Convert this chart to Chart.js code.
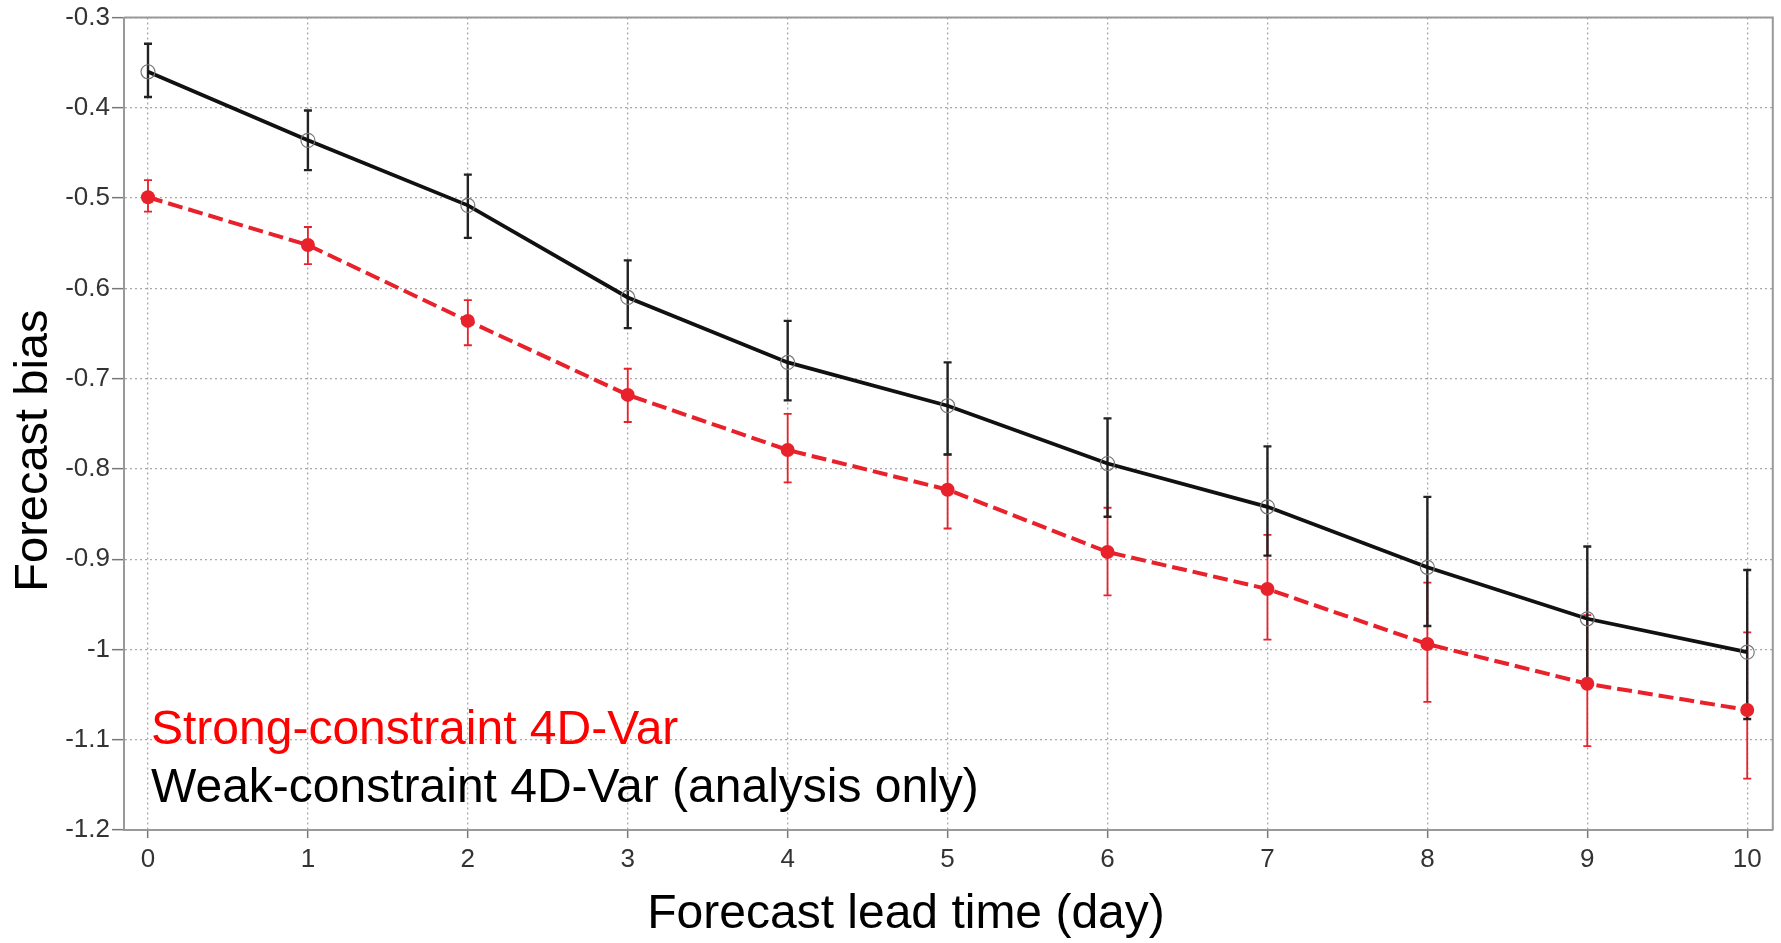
<!DOCTYPE html>
<html><head><meta charset="utf-8">
<script src="https://cdn.jsdelivr.net/npm/chart.js@4.4.1/dist/chart.umd.min.js"></script>
<style>html,body{margin:0;padding:0;background:#fff;overflow:hidden}canvas{display:block}</style>
</head><body>
<canvas id="c" width="1781" height="943"></canvas>
<script>
// ---- data ----
const leadTimes  = [0, 1, 2, 3, 4, 5, 6, 7, 8, 9, 10];
const strongBias = [-0.499, -0.552, -0.636, -0.718, -0.779, -0.823, -0.892, -0.933, -0.994, -1.038, -1.067];
const strongLow  = [-0.515, -0.573, -0.663, -0.748, -0.815, -0.866, -0.940, -0.989, -1.058, -1.107, -1.143];
const strongHigh = [-0.480, -0.532, -0.613, -0.689, -0.739, -0.784, -0.843, -0.873, -0.926, -0.962, -0.981];
const weakBias   = [-0.360, -0.436, -0.508, -0.610, -0.682, -0.730, -0.794, -0.842, -0.909, -0.966, -1.003];
const weakLow    = [-0.388, -0.469, -0.544, -0.644, -0.724, -0.784, -0.853, -0.896, -0.974, -1.034, -1.077];
const weakHigh   = [-0.329, -0.403, -0.474, -0.569, -0.636, -0.682, -0.744, -0.775, -0.831, -0.886, -0.912];
const seriesNames = ['Strong-constraint 4D-Var', 'Weak-constraint 4D-Var (analysis only)'];
const xTitle = 'Forecast lead time (day)';
const yTitle = 'Forecast bias';

const RED = '#e8212b';
const FONT = "'Liberation Sans', Arial, Helvetica, sans-serif";
Chart.defaults.font.family = FONT;

const pts = arr => leadTimes.map((t, i) => ({x: t, y: arr[i]}));

const errorBars = {
  id: 'errorBars',
  beforeDatasetsDraw(chart) {
    const {ctx, scales: {x, y}} = chart;
    ctx.save();
    [0, 1].forEach(di => {
      const ds = chart.data.datasets[di];
      ctx.strokeStyle = ds.errColor;
      ctx.lineWidth = ds.errWidth;
      ctx.setLineDash([]);
      leadTimes.forEach((t, i) => {
        const px = x.getPixelForValue(t);
        const y1 = y.getPixelForValue(ds.errLow[i]);
        const y2 = y.getPixelForValue(ds.errHigh[i]);
        ctx.beginPath();
        ctx.moveTo(px, y1); ctx.lineTo(px, y2);
        ctx.moveTo(px - 4, y1); ctx.lineTo(px + 4, y1);
        ctx.moveTo(px - 4, y2); ctx.lineTo(px + 4, y2);
        ctx.stroke();
      });
    });
    ctx.restore();
  }
};

const frame = {
  id: 'frame',
  beforeDatasetsDraw(chart) {
    const {ctx, chartArea: a} = chart;
    ctx.save();
    ctx.strokeStyle = '#999';
    ctx.lineWidth = 2;
    ctx.setLineDash([]);
    ctx.beginPath();
    ctx.moveTo(a.left, a.top); ctx.lineTo(a.right, a.top); ctx.lineTo(a.right, a.bottom);
    ctx.stroke();
    ctx.restore();
  }
};

const texts = {
  id: 'texts',
  afterDraw(chart) {
    const {ctx, chartArea: a} = chart;
    ctx.save();
    ctx.font = '48px ' + FONT;
    ctx.textBaseline = 'alphabetic';
    ctx.textAlign = 'left';
    ctx.fillStyle = '#ff0000';
    ctx.fillText(seriesNames[0], a.left + 27, a.bottom - 86);
    ctx.fillStyle = '#000';
    ctx.fillText(seriesNames[1], a.left + 27, a.bottom - 28.5);
    // axis titles
    ctx.font = '48px ' + FONT;
    ctx.textAlign = 'center';
    ctx.textBaseline = 'middle';
    ctx.fillText(xTitle, a.left + 782, a.bottom + 85);
    ctx.translate(34, a.top + 433);
    ctx.rotate(-Math.PI / 2);
    ctx.font = '47px ' + FONT;
    ctx.fillText(yTitle, 0, 0);
    ctx.restore();
  }
};

new Chart(document.getElementById('c'), {
  type: 'line',
  data: {
    datasets: [
      {
        label: seriesNames[0],
        data: pts(strongBias),
        borderColor: RED,
        borderWidth: 4,
        borderDash: [15, 6],
        pointRadius: 7,
        pointBackgroundColor: RED,
        pointBorderColor: RED,
        pointBorderWidth: 0,
        tension: 0,
        errLow: strongLow, errHigh: strongHigh, errColor: RED, errWidth: 1.8
      },
      {
        label: seriesNames[1],
        data: pts(weakBias),
        borderColor: '#111',
        borderWidth: 3.8,
        pointRadius: 7,
        pointBackgroundColor: 'rgba(0,0,0,0)',
        pointBorderColor: '#777',
        pointBorderWidth: 1.2,
        tension: 0,
        errLow: weakLow, errHigh: weakHigh, errColor: '#222', errWidth: 2.4
      }
    ]
  },
  options: {
    responsive: false,
    animation: false,
    devicePixelRatio: 1,
    layout: {padding: {top: 16, right: 6, left: 0, bottom: 0}},
    plugins: {legend: {display: false}, tooltip: {enabled: false}},
    scales: {
      x: {
        type: 'linear',
        min: -0.15, max: 10.16,
        afterFit(s) { s.height = 113; },
        ticks: {stepSize: 1, includeBounds: false, padding: 6, color: '#333', font: {size: 26}},
        grid: {color: '#a8a8a8', lineWidth: 1.3, tickLength: 8,
               tickColor: '#777', tickWidth: 1.5, tickBorderDash: []},
        border: {display: true, color: '#999', width: 2, dash: [2, 3]}
      },
      y: {
        type: 'linear',
        min: -1.2, max: -0.3,
        afterFit(s) { s.width = 124; },
        ticks: {stepSize: 0.1, padding: 2, color: '#333', font: {size: 26},
                callback: v => String(Number(v.toFixed(1)))},
        grid: {color: '#a8a8a8', lineWidth: 1.3, tickLength: 12,
               tickColor: '#777', tickWidth: 1.5, tickBorderDash: []},
        border: {display: true, color: '#999', width: 2, dash: [2, 3]}
      }
    }
  },
  plugins: [errorBars, frame, texts]
});
</script>
</body></html>
